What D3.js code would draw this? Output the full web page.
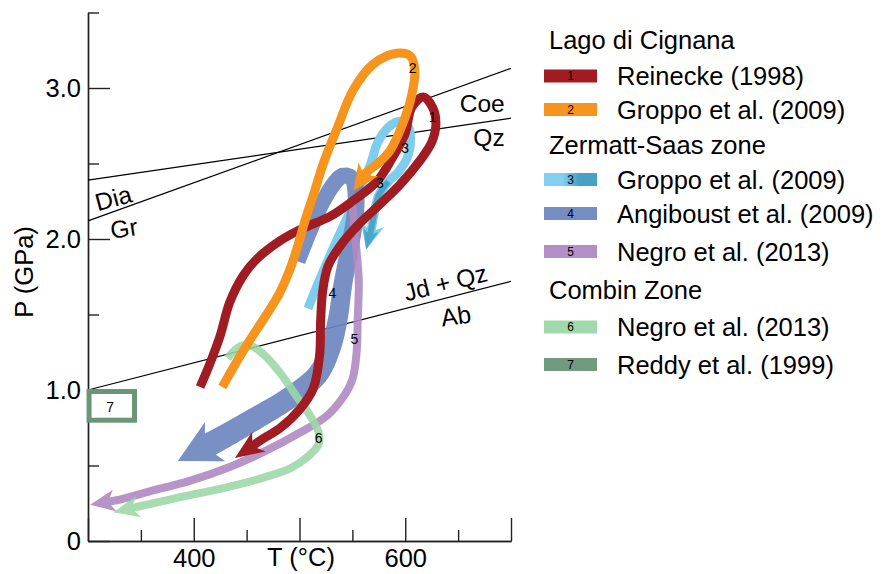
<!DOCTYPE html>
<html>
<head>
<meta charset="utf-8">
<script src="https://cdn.jsdelivr.net/npm/d3@7"></script>
<style>
  body { margin: 0; background: #fff; }
  svg { display: block; font-family: "Liberation Sans", Arial, sans-serif; }
</style>
</head>
<body>
<svg id="chart" width="889" height="574"></svg>
<script>
// P-T paths: [T (°C), P (GPa)], last point = arrow tip
var reinecke = [[406,1.02],[415,1.17],[425,1.36],[434,1.58],[447,1.76],[460,1.87],[482,1.99],[503,2.07],[529,2.15],[548,2.24],[573,2.38],[588,2.54],[600,2.70],[606,2.87],[617,2.94],[626,2.87],[629,2.76],[625,2.64],[614,2.52],[595,2.36],[576,2.23],[555,2.09],[538,1.95],[527,1.82],[522,1.66],[520,1.46],[519,1.23],[513,1.01],[500,0.87],[482,0.75],[464,0.67],[439,0.55]];
var groppoLC = [[427,1.02],[440,1.18],[453,1.33],[467,1.48],[481,1.64],[491,1.80],[499,1.97],[506,2.14],[514,2.31],[522,2.49],[536,2.74],[551,2.99],[570,3.16],[592,3.23],[605,3.21],[609,3.11],[606,2.95],[598,2.77],[586,2.59],[574,2.50],[563,2.44],[551,2.32]];
var groppoZS = [[508,1.54],[519,1.73],[532,1.94],[545,2.14],[557,2.33],[567,2.49],[574,2.64],[584,2.74],[595,2.78],[603,2.74],[605,2.66],[602,2.54],[593,2.44],[584,2.38],[575,2.29],[571,2.18],[568,2.07],[563,1.93]];
var angiboust = [[499,1.85],[510,2.05],[521,2.23],[532,2.36],[541,2.42],[550,2.40],[553,2.33],[553,2.18],[548,1.96],[541,1.70],[536,1.46],[529,1.27],[518,1.11],[501,1.00],[480,0.90],[458,0.81],[436,0.72],[418,0.65],[385,0.53]];
var negroZS = [[550,2.23],[553,1.99],[556,1.73],[555,1.46],[554,1.25],[550,1.07],[541,0.95],[526,0.83],[501,0.72],[466,0.59],[434,0.49],[397,0.40],[359,0.33],[327,0.27],[302,0.24]];
var negroCZ = [[432,1.21],[444,1.29],[455,1.29],[467,1.23],[482,1.11],[498,0.95],[510,0.83],[518,0.72],[518,0.64],[508,0.56],[491,0.48],[466,0.42],[434,0.36],[387,0.29],[349,0.23],[324,0.19]];
var reddyBox = [[301,0.80],[344,0.99]];

// reaction lines
var diaGr = [[300,2.12],[700,3.13]];
var coeQz = [[300,2.39],[700,2.80]];
var jdAb = [[300,1.00],[700,1.72]];

// axes
var tMajor = [300,400,500,600,700], tMinor = [350,450,550,650];
var tLabels = [400,600];
var pMajor = [0,1,2,3], pMinor = [0.5,1.5,2.5,3.5];

var legendHeads = ["Lago di Cignana","Zermatt-Saas zone","Combin Zone"];
var legendItems = ["Reinecke (1998)","Groppo et al. (2009)","Groppo et al. (2009)","Angiboust et al. (2009)","Negro et al. (2013)","Negro et al. (2013)","Reddy et al. (1999)"];

var colors = {1:"#a01c22",2:"#f7941d",3:"#7ccdee",3.5:"#3d9cc2",4:"#6e87bf",5:"#b089c2",6:"#9bd7a6",7:"#6a9577"};

var svg = d3.select("#chart");
var x = d3.scaleLinear().domain([300,700]).range([88,511]);
var y = d3.scaleLinear().domain([0,3.5]).range([541,12.5]);

// ---- axes
function fmtP(d){ return d === 0 ? "0" : d3.format(".1f")(d); }
svg.append("g").attr("transform","translate(88,0)")
  .call(d3.axisLeft(y).tickValues(pMajor).tickSize(-22).tickSizeOuter(0).tickPadding(7).tickFormat(fmtP));
svg.append("g").attr("transform","translate(88,0)")
  .call(d3.axisLeft(y).tickValues(pMinor).tickSize(-11).tickSizeOuter(0).tickFormat(""));
svg.append("g").attr("transform","translate(0,541)")
  .call(d3.axisBottom(x).tickValues(tMajor).tickSize(-23).tickSizeOuter(0).tickPadding(8)
    .tickFormat(function(d){ return tLabels.indexOf(d) >= 0 ? d : ""; }));
svg.append("g").attr("transform","translate(0,541)")
  .call(d3.axisBottom(x).tickValues(tMinor).tickSize(-11).tickSizeOuter(0).tickFormat(""));
svg.selectAll(".tick text").attr("font-size",25.5).attr("font-family","Liberation Sans, Arial, sans-serif").attr("fill","#000");
svg.selectAll(".domain, .tick line").attr("stroke","#222").attr("stroke-width",1.4);

svg.append("text").attr("x",301).attr("y",566).attr("text-anchor","middle").attr("font-size",25.5).text("T (°C)");
svg.append("text").attr("transform","translate(33,272) rotate(-90)").attr("text-anchor","middle").attr("font-size",25.5).text("P (GPa)");

// ---- reaction lines
[diaGr, coeQz, jdAb].forEach(function(l){
  svg.append("line").attr("x1",x(l[0][0])).attr("y1",y(l[0][1])).attr("x2",x(l[1][0])).attr("y2",y(l[1][1]))
    .attr("stroke","#000").attr("stroke-width",1.2);
});
var reactLabels = [
  {t:"Dia", T:324, P:2.27, r:-15, a:"middle"},
  {t:"Gr", T:334, P:2.07, r:-9, a:"middle"},
  {t:"Coe", T:694, P:2.90, r:0, a:"end"},
  {t:"Qz", T:694, P:2.67, r:0, a:"end"},
  {t:"Jd + Qz", T:638, P:1.71, r:-14, a:"middle"},
  {t:"Ab", T:648, P:1.49, r:-8, a:"middle"}
];
reactLabels.forEach(function(d){
  svg.append("text").attr("transform","translate("+x(d.T)+","+y(d.P)+") rotate("+d.r+")")
    .attr("text-anchor",d.a).attr("dy","0.35em").attr("font-size",24.5).text(d.t);
});

// ---- P-T paths
var lineGen = d3.line().curve(d3.curveCatmullRom.alpha(0.5));

function arrowHead(g, px, col, arrow) {
  var tip = px[px.length-1], base = px[px.length-2];
  var dx = tip[0]-base[0], dy = tip[1]-base[1], dd = Math.hypot(dx,dy);
  var ux = dx/dd, uy = dy/dd, nx = -uy, ny = ux;
  var L = arrow[0], W = arrow[1]/2;
  var line = px.slice(0,-1);
  if (dd < L*0.75) line.pop();
  line.push([tip[0]-ux*L*0.6, tip[1]-uy*L*0.6]);
  var b = [tip[0]-ux*L, tip[1]-uy*L];
  var notch = [tip[0]-ux*L*0.72, tip[1]-uy*L*0.72];
  g.append("path")
    .attr("d","M"+tip+"L"+[b[0]+nx*W,b[1]+ny*W]+"L"+notch+"L"+[b[0]-nx*W,b[1]-ny*W]+"Z")
    .attr("fill",col);
  return line;
}

function drawPath(pts, col, w, op, arrow) {
  var g = svg.append("g").attr("opacity", op);
  var px = pts.map(function(d){ return [x(d[0]), y(d[1])]; });
  var line = arrow ? arrowHead(g, px, col, arrow) : px;
  g.insert("path",":first-child").attr("d",lineGen(line)).attr("fill","none")
    .attr("stroke",col).attr("stroke-width",w).attr("stroke-linejoin","round");
}

// band whose width grows from w0 to w1 along its length
function drawBand(pts, col, w0, w1, op, arrow) {
  var g = svg.append("g").attr("opacity", op);
  var px = pts.map(function(d){ return [x(d[0]), y(d[1])]; });
  var line = arrowHead(g, px, col, arrow);
  var tmp = g.append("path").attr("d", lineGen(line)).attr("fill","none");
  var node = tmp.node(), len = node.getTotalLength(), n = 120;
  var left = [], right = [];
  for (var i = 0; i <= n; i++) {
    var s = len*i/n;
    var p = node.getPointAtLength(s);
    var q = node.getPointAtLength(Math.min(len, s+0.5)), r0 = node.getPointAtLength(Math.max(0, s-0.5));
    var tx = q.x-r0.x, ty = q.y-r0.y, tl = Math.hypot(tx,ty) || 1;
    var hw = (w0 + (w1-w0)*i/n)/2;
    left.push([p.x - ty/tl*hw, p.y + tx/tl*hw]);
    right.push([p.x + ty/tl*hw, p.y - tx/tl*hw]);
  }
  tmp.remove();
  g.insert("path",":first-child").attr("d","M"+left.join("L")+"L"+right.reverse().join("L")+"Z").attr("fill",col);
}

drawPath(groppoZS, colors[3], 9, 1, [26,24]);
drawPath(groppoZS.slice(13), colors[3.5], 6, 0.8, [20,15]);
drawBand(angiboust, colors[4], 14, 24, 0.92, [42,44]);
drawPath(negroZS, colors[5], 8, 0.9, [25,22]);
drawPath(negroCZ, colors[6], 8, 0.88, [26,22]);
drawPath(reinecke, colors[1], 9, 1, [29,24]);
drawPath(groppoLC, colors[2], 9, 1, [26,24]);

// Reddy et al. box
svg.append("rect").attr("x",x(reddyBox[0][0])).attr("y",y(reddyBox[1][1]))
  .attr("width",x(reddyBox[1][0])-x(reddyBox[0][0])).attr("height",y(reddyBox[0][1])-y(reddyBox[1][1]))
  .attr("fill","none").attr("stroke",colors[7]).attr("stroke-width",5);

// path numbers
var pathNums = [["1",626,2.81],["2",607,3.13],["3",600,2.60],["3",576,2.37],["4",531,1.64],["5",552,1.34],["6",518,0.68],["7",321,0.89]];
pathNums.forEach(function(d){
  svg.append("text").attr("x",x(d[1])).attr("y",y(d[2])).attr("dy","0.35em")
    .attr("text-anchor","middle").attr("font-size",14).text(d[0]);
});

// ---- legend
var defs = svg.append("defs");
var grad = defs.append("linearGradient").attr("id","g3");
grad.append("stop").attr("offset","0.35").attr("stop-color",colors[3]);
grad.append("stop").attr("offset","0.65").attr("stop-color",colors[3.5]);

var headY = [49,154,299];
var itemY = [76,109.5,179.5,213.5,251.5,327,364.5];
var itemCol = [colors[1],colors[2],"url(#g3)",colors[4],colors[5],colors[6],colors[7]];
legendHeads.forEach(function(h,i){
  svg.append("text").attr("x",549).attr("y",headY[i]).attr("font-size",25.5).text(h);
});
legendItems.forEach(function(t,i){
  svg.append("rect").attr("x",544).attr("y",itemY[i]-6.5).attr("width",53).attr("height",13)
    .attr("fill",itemCol[i]).attr("opacity",i===0||i===1?1:0.95);
  svg.append("text").attr("x",570.5).attr("y",itemY[i]).attr("dy","0.36em").attr("text-anchor","middle")
    .attr("font-size",12).text(i+1);
  svg.append("text").attr("x",617).attr("y",itemY[i]).attr("dy","0.36em").attr("font-size",25.5).text(t);
});
</script>
</body>
</html>
